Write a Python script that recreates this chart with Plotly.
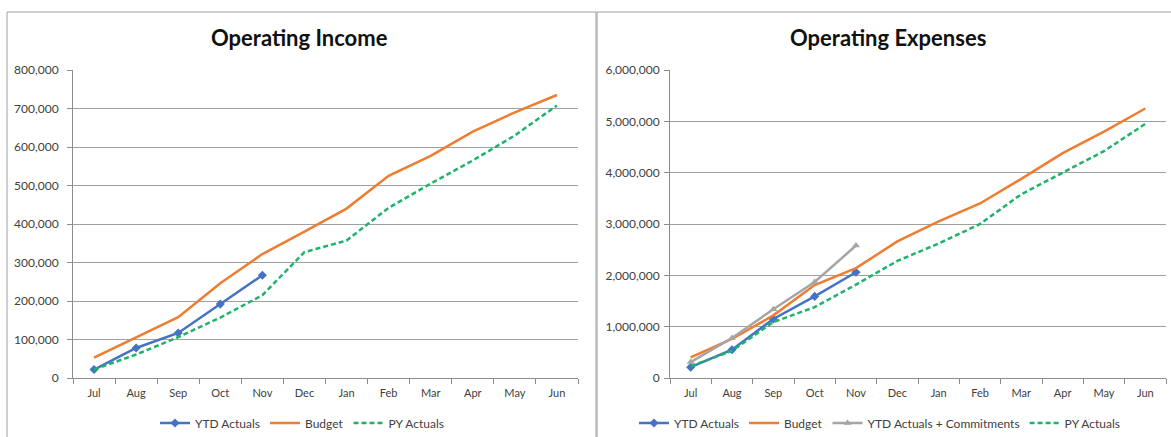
import plotly.graph_objects as go

months = ["Jul", "Aug", "Sep", "Oct", "Nov", "Dec", "Jan", "Feb", "Mar", "Apr", "May", "Jun"]

# Operating Income
inc_ytd = [22000, 78000, 117000, 192000, 267000]
inc_budget = [53000, 106000, 158000, 246000, 322000, 380000, 440000, 525000, 577000, 640000, 690000, 735000]
inc_py = [22000, 61000, 106000, 157000, 215000, 327000, 357000, 442000, 505000, 565000, 630000, 708000]

# Operating Expenses
exp_ytd = [210000, 550000, 1150000, 1590000, 2060000]
exp_budget = [400000, 760000, 1220000, 1810000, 2140000, 2660000, 3050000, 3400000, 3880000, 4380000, 4800000, 5250000]
exp_commit = [310000, 780000, 1340000, 1870000, 2580000]
exp_py = [230000, 530000, 1090000, 1380000, 1820000, 2280000, 2620000, 3000000, 3580000, 4000000, 4420000, 4950000]

W, H = 1171, 437
BLUE = "#4472C4"
ORANGE = "#ED7D31"
GRAY = "#A5A5A5"
GREEN = "#1DB36A"
FONT = "Lato"
TXT = "#404040"

def px(x):
    return x / W

def py(y):
    return 1 - y / H

fig = go.Figure()

# Left chart
fig.add_trace(go.Scatter(x=months[:len(inc_ytd)], y=inc_ytd, name="YTD Actuals", mode="lines+markers",
                         line=dict(color=BLUE, width=2.5), marker=dict(symbol="diamond", size=7, color=BLUE),
                         xaxis="x", yaxis="y", legend="legend"))
fig.add_trace(go.Scatter(x=months, y=inc_budget, name="Budget", mode="lines",
                         line=dict(color=ORANGE, width=2.5), xaxis="x", yaxis="y", legend="legend"))
fig.add_trace(go.Scatter(x=months, y=inc_py, name="PY Actuals", mode="lines",
                         line=dict(color=GREEN, width=2.5, dash="5px,3px"), xaxis="x", yaxis="y", legend="legend"))

# Right chart
fig.add_trace(go.Scatter(x=months[:len(exp_ytd)], y=exp_ytd, name="YTD Actuals", mode="lines+markers",
                         line=dict(color=BLUE, width=2.5), marker=dict(symbol="diamond", size=7, color=BLUE),
                         xaxis="x2", yaxis="y2", legend="legend2"))
fig.add_trace(go.Scatter(x=months, y=exp_budget, name="Budget", mode="lines",
                         line=dict(color=ORANGE, width=2.5), xaxis="x2", yaxis="y2", legend="legend2"))
fig.add_trace(go.Scatter(x=months[:len(exp_commit)], y=exp_commit, name="YTD Actuals + Commitments", mode="lines+markers",
                         line=dict(color=GRAY, width=2.5), marker=dict(symbol="triangle-up", size=7, color=GRAY),
                         xaxis="x2", yaxis="y2", legend="legend2"))
fig.add_trace(go.Scatter(x=months, y=exp_py, name="PY Actuals", mode="lines",
                         line=dict(color=GREEN, width=2.5, dash="5px,3px"), xaxis="x2", yaxis="y2", legend="legend2"))

xcommon = dict(type="category", categoryorder="array", categoryarray=months, range=[-0.5, 11.5],
               showline=True, linecolor="#8C8C8C", linewidth=1, ticks="outside", tickson="boundaries",
               ticklen=5, tickcolor="#8C8C8C", showgrid=False, zeroline=False, automargin=False,
               ticklabelstandoff=5,
               tickfont=dict(family=FONT, size=11, color=TXT), fixedrange=True)
ycommon = dict(showline=True, linecolor="#8C8C8C", linewidth=1, ticks="outside", ticklen=5,
               tickcolor="#8C8C8C", showgrid=True, gridcolor="#A0A0A0", gridwidth=1, zeroline=False,
               automargin=False, tickformat=",d", tickfont=dict(family=FONT, size=12, color=TXT),
               fixedrange=True)

fig.update_layout(
    template="none",
    width=W, height=H, margin=dict(l=0, r=0, t=0, b=0, autoexpand=False),
    paper_bgcolor="white", plot_bgcolor="white",
    font=dict(family=FONT, color=TXT),
    xaxis=dict(xcommon, domain=[px(73), px(578)], anchor="y"),
    yaxis=dict(ycommon, domain=[py(378), py(70)], range=[0, 800000], dtick=100000, anchor="x",
               ticklabelstandoff=6),
    xaxis2=dict(xcommon, domain=[px(670), px(1166)], anchor="y2"),
    yaxis2=dict(ycommon, domain=[py(378), py(70)], range=[0, 6000000], dtick=1000000, anchor="x2",
                ticklabelstandoff=2),
    legend=dict(orientation="h", x=px(302), y=py(423), xanchor="center", yanchor="middle",
                font=dict(family=FONT, size=12, color=TXT), itemwidth=30, tracegroupgap=0,
                bgcolor="rgba(0,0,0,0)"),
    legend2=dict(orientation="h", x=px(880), y=py(423), xanchor="center", yanchor="middle",
                 font=dict(family=FONT, size=12, color=TXT), itemwidth=30, tracegroupgap=0,
                 bgcolor="rgba(0,0,0,0)"),
    annotations=[
        dict(text="<b>Operating Income</b>", x=px(300), y=py(38), xref="paper", yref="paper",
             showarrow=False, font=dict(family=FONT, size=22, color="#111111"), xanchor="center", yanchor="middle"),
        dict(text="<b>Operating Expenses</b>", x=px(888), y=py(38), xref="paper", yref="paper",
             showarrow=False, font=dict(family=FONT, size=22, color="#111111"), xanchor="center", yanchor="middle"),
    ],
    shapes=[
        dict(type="rect", xref="paper", yref="paper", x0=px(7), x1=px(596), y0=py(440), y1=py(12),
             line=dict(color="#A0A0A0", width=1), fillcolor="rgba(0,0,0,0)", layer="below"),
        dict(type="rect", xref="paper", yref="paper", x0=px(597), x1=px(1175), y0=py(440), y1=py(12),
             line=dict(color="#A0A0A0", width=1), fillcolor="rgba(0,0,0,0)", layer="below"),
    ],
    showlegend=True,
)

fig.write_html("out.html")
